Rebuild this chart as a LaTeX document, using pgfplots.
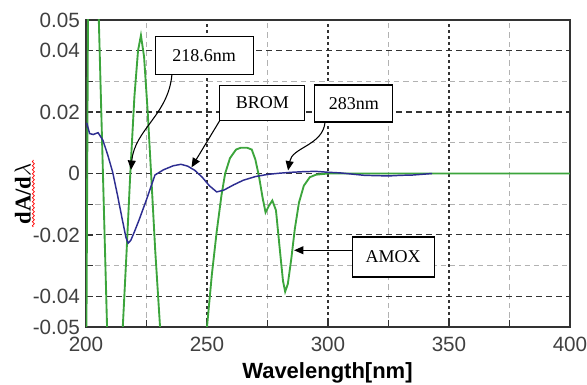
\documentclass[border=0pt]{standalone}
\usepackage{pgfplots}
\pgfplotsset{compat=1.18}
\usepackage{fontspec}
\setmainfont{Liberation Sans}
\newfontfamily\serif{Liberation Serif}
\usetikzlibrary{arrows.meta,decorations.pathmorphing}
\definecolor{amox}{RGB}{60,165,60}
\definecolor{brom}{RGB}{45,45,145}
\begin{document}
\begin{tikzpicture}
\useasboundingbox (-64.5pt,-43.5pt) rectangle (375.75pt,245.25pt);
\begin{axis}[
  scale only axis,
  width=363pt, height=230.25pt,
  xmin=200, xmax=400, ymin=-0.05, ymax=0.05,
  scaled y ticks=false, scaled x ticks=false,
  xtick={200,250,300,350,400},
  minor xtick={225,275,325,375},
  ytick={-0.05,-0.04,-0.02,0,0.02,0.04,0.05},
  yticklabels={-0.05,-0.04,-0.02,0,0.02,0.04,0.05},
  xticklabels={200,250,300,350,400},
  minor ytick={-0.03,-0.01,0.01,0.03},
  grid=both,
  major x grid style={black!80, line width=0.9pt, dash pattern=on 2pt off 2.5pt},
  major y grid style={black!80, line width=0.9pt, dash pattern=on 4.5pt off 3pt},
  minor grid style={black!30, line width=0.7pt, dash pattern=on 4pt off 3pt},
  axis line style={black!80, line width=1.3pt},
  tick style={black!80, line width=1pt},
  major tick length=5pt, minor tick length=5pt,
  tick align=inside,
  xtick pos=bottom, ytick pos=left,
  ticklabel style={font=\fontsize{15.5}{15.5}\selectfont, text=black!75},
  xticklabel style={yshift=-4pt},
  yticklabel style={xshift=-1pt},
  clip=true,
]
\addplot[amox, line width=1.4pt] coordinates {
(200.0,-0.080) (200.5,0.0) (201.0,0.080) (203,0.11) (205.3,0.05) (207,0.0)
(208.7,-0.05) (211,-0.08) (213,-0.08) (215.2,-0.05) (216.8,-0.025) (218.3,0.0)
(220,0.025) (221.5,0.040) (222.7,0.045) (224,0.038) (225.5,0.020) (226.9,0.0)
(228.6,-0.025) (230.6,-0.05) (235,-0.09) (240,-0.10) (245,-0.08) (250,-0.05)
(252,-0.033) (254,-0.019) (256,-0.007) (257.5,0.0) (259.5,0.005) (262,0.0078)
(264,0.0084) (266.5,0.0084) (268.5,0.0078) (270,0.0045) (271.5,-0.001)
(273,-0.008) (274.2,-0.0127) (275.6,-0.0105) (277,-0.0088) (278.5,-0.012)
(280,-0.024) (281.4,-0.035) (282.3,-0.0385) (283.4,-0.036) (284.8,-0.028)
(286.3,-0.018) (288,-0.0095) (290,-0.0040) (292.5,-0.0012) (295,-0.0004)
(300,0.0) (400,0.0)
};
\addplot[brom, line width=1.1pt] coordinates {
(200.3,0.0165) (201.5,0.0130) (203,0.0127) (205,0.0133) (207,0.0108)
(209,0.0060) (211,0.0005) (213,-0.0070) (215,-0.0150) (216.5,-0.0208)
(217.4,-0.0227) (218.5,-0.0218) (220,-0.0190) (222,-0.0150) (225,-0.0085)
(228.5,-0.0005) (232,0.0012) (236,0.0025) (239.2,0.0030) (242,0.0024)
(245,0.0010) (248,-0.0012) (251,-0.0040) (254,-0.0060) (257,-0.0054)
(261,-0.0037) (265,-0.0022) (270,-0.0010) (275,-0.0003) (280,0.0001)
(285,0.0004) (290,0.0006) (295,0.0007) (300,0.0004) (305,0.0002)
(310,-0.0002) (315,-0.0006) (320,-0.0007) (325,-0.0008) (330,-0.0006)
(335,-0.0005) (340,-0.0002) (343,0.0)
};
% annotations
\node[draw=black, fill=white, line width=0.8pt, minimum width=73.5pt, minimum height=28.5pt, inner sep=0pt, font=\serif\fontsize{13.5}{13.5}\selectfont] at (axis cs:248.8,0.0383) {218.6nm};
\node[draw=black, fill=white, line width=0.8pt, minimum width=63.75pt, minimum height=26.25pt, inner sep=0pt, font=\serif\fontsize{13.5}{13.5}\selectfont] at (axis cs:272.9,0.0231) {BROM};
\node[draw=black, fill=white, line width=0.8pt, minimum width=58.5pt, minimum height=27.75pt, inner sep=0pt, font=\serif\fontsize{13.5}{13.5}\selectfont] at (axis cs:310.7,0.0228) {283nm};
\node[draw=black, fill=white, line width=0.8pt, minimum width=61.5pt, minimum height=30pt, inner sep=0pt, font=\serif\fontsize{13.5}{13.5}\selectfont] at (axis cs:326.9,-0.0272) {AMOX};
\draw[black, line width=0.8pt, -{Triangle[length=7pt,width=6pt]}] (axis cs:235.5,0.0322) to[out=-95,in=85] (axis cs:218.6,0.0012);
\draw[black, line width=0.8pt, -{Triangle[length=7pt,width=6pt]}] (axis cs:255.4,0.0174) -- (axis cs:243.6,0.0020);
\draw[black, line width=0.8pt, -{Triangle[length=7pt,width=6pt]}] (axis cs:298.8,0.0168) to[out=-95,in=80] (axis cs:283.5,0.0010);
\draw[black, line width=0.8pt, -{Triangle[length=7pt,width=6pt]}] (axis cs:310.0,-0.0250) -- (axis cs:286.0,-0.0250);
\end{axis}
\node[font=\fontsize{16.5}{16.5}\selectfont\bfseries] at (181.1pt,-34.5pt) {Wavelength[nm]};
\node[rotate=90, font=\serif\bfseries\fontsize{17}{17}\selectfont] at (-47.5pt,99.75pt) {dA/d\ensuremath{\lambda}};
\draw[red, line width=0.5pt, decorate, decoration={snake, amplitude=0.8pt, segment length=3pt}] (-39.5pt,75pt) -- (-39.5pt,125.25pt);
\end{tikzpicture}
\end{document}
